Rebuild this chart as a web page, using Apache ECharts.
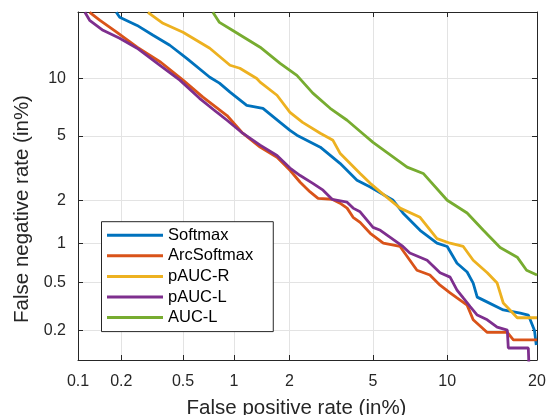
<!DOCTYPE html>
<html>
<head>
<meta charset="utf-8">
<script src="https://cdn.jsdelivr.net/npm/echarts@6/dist/echarts.min.js"></script>
<style>
html, body { margin: 0; padding: 0; background: #fff; }
#chart { width: 546px; height: 415px; }
</style>
</head>
<body>
<div id="chart"></div>
<script>
// tick positions (percent) and their labels
var xTicks = [0.1, 0.2, 0.5, 1, 2, 5, 10, 20];
var xTickLabels = ['0.1', '0.2', '0.5', '1', '2', '5', '10', '20'];
var yTicks = [0.2, 0.5, 1, 2, 5, 10];
var yTickLabels = ['0.2', '0.5', '1', '2', '5', '10'];
var xRange = [0.1, 20];
var yRange = [0.108, 19.5];

var seriesNames = ['Softmax', 'ArcSoftmax', 'pAUC-R', 'pAUC-L', 'AUC-L'];
var seriesColors = ['#0072BD', '#D95319', '#EDB120', '#7E2F8E', '#77AC30'];

// DET curves: false positive rate (%) / false negative rate (%)
var softmaxFpr = [0.185, 0.195, 0.255, 0.324, 0.414, 0.527, 0.725, 0.826, 0.95, 1.18, 1.447, 1.786, 2.01, 2.18, 2.85, 3.54, 4.24, 4.86, 6.10, 6.70, 7.86, 9.15, 10.0, 10.87, 11.82, 12.42, 12.83, 13.47, 15.7, 17.79, 18.83, 19.65, 19.9];
var softmaxFnr = [19.45, 18.6, 17.24, 15.70, 14.22, 12.43, 10.14, 9.49, 8.57, 7.33, 7.07, 5.94, 5.37, 5.04, 4.30, 3.44, 2.70, 2.44, 2.0, 1.64, 1.24, 1.0, 0.946, 0.708, 0.605, 0.495, 0.381, 0.36, 0.298, 0.28, 0.270, 0.20, 0.148];

var arcFpr = [0.121, 0.143, 0.187, 0.255, 0.363, 0.50, 0.66, 0.913, 1.12, 1.397, 1.72, 2.01, 2.265, 2.54, 2.78, 3.25, 3.54, 3.82, 4.07, 4.38, 4.86, 5.54, 6.52, 7.64, 8.59, 9.40, 10.25, 10.87, 11.82, 12.42, 13.89, 16.18, 16.92, 20];
var arcFnr = [19.45, 18.08, 16.15, 13.94, 11.93, 9.82, 8.08, 6.47, 5.17, 4.30, 3.74, 3.12, 2.62, 2.27, 2.06, 2.03, 1.91, 1.77, 1.53, 1.41, 1.18, 1.0, 0.946, 0.625, 0.573, 0.476, 0.412, 0.375, 0.327, 0.246, 0.191, 0.191, 0.164, 0.164];

var paucRFpr = [0.30, 0.375, 0.50, 0.725, 0.95, 1.08, 1.34, 1.397, 1.72, 2.01, 2.33, 2.85, 3.28, 3.54, 4.38, 4.86, 5.38, 6.52, 7.86, 9.15, 10.25, 11.45, 12.42, 13.89, 14.99, 15.7, 16.5, 17.4, 20];
var paucRFnr = [19.45, 17.58, 16.15, 13.8, 11.56, 11.19, 10.0, 9.6, 8.26, 6.72, 5.94, 5.17, 4.71, 3.96, 2.98, 2.58, 2.27, 1.77, 1.53, 1.08, 1.0, 0.946, 0.746, 0.598, 0.495, 0.341, 0.298, 0.256, 0.256];

var paucLFpr = [0.112, 0.121, 0.150, 0.195, 0.255, 0.345, 0.478, 0.63, 0.80, 0.913, 1.12, 1.397, 1.72, 2.01, 2.265, 2.62, 2.94, 3.25, 3.82, 4.07, 4.38, 5.0, 5.38, 6.70, 7.15, 8.38, 9.40, 10.25, 10.87, 11.45, 12.12, 12.83, 13.89, 14.99, 16.18, 16.3, 18.83, 18.9];
var paucLFnr = [19.45, 18.08, 16.46, 15.23, 13.8, 11.8, 9.82, 7.97, 6.72, 6.10, 5.17, 4.42, 3.84, 3.22, 2.89, 2.58, 2.33, 2.03, 1.94, 1.77, 1.67, 1.30, 1.24, 0.946, 0.845, 0.746, 0.598, 0.552, 0.435, 0.375, 0.318, 0.270, 0.246, 0.213, 0.200, 0.139, 0.139, 0.101];

var aucLFpr = [0.756, 0.826, 0.98, 1.397, 1.786, 2.18, 2.62, 3.18, 3.82, 4.48, 5.0, 6.97, 8.09, 10.0, 11.82, 13.47, 15.33, 17.4, 18.6, 20];
var aucLFnr = [19.45, 17.73, 16.46, 13.94, 11.8, 10.35, 8.47, 7.07, 6.10, 5.17, 4.58, 3.26, 2.98, 2.0, 1.64, 1.24, 0.93, 0.787, 0.625, 0.573];

var curves = [
    [softmaxFpr, softmaxFnr],
    [arcFpr, arcFnr],
    [paucRFpr, paucRFnr],
    [paucLFpr, paucLFnr],
    [aucLFpr, aucLFnr]
];

// inverse normal CDF (Acklam), used for the DET (normal deviate) scale
function probit(p) {
    var a = [-39.69683028665376, 220.9460984245205, -275.9285104469687, 138.3577518672690, -30.66479806614716, 2.506628277459239];
    var b = [-54.47609879822406, 161.5858368580409, -155.6989798598866, 66.80131188771972, -13.28068155288572];
    var c = [-0.007784894002430293, -0.3223964580411365, -2.400758277161838, -2.549732539343734, 4.374664141464968, 2.938163982698783];
    var d = [0.007784695709041462, 0.3224671290700398, 2.445134137142996, 3.754408661907416];
    var q, r;
    if (p < 0.02425) {
        q = Math.sqrt(-2 * Math.log(p));
        return (((((c[0] * q + c[1]) * q + c[2]) * q + c[3]) * q + c[4]) * q + c[5]) /
            ((((d[0] * q + d[1]) * q + d[2]) * q + d[3]) * q + 1);
    }
    if (p <= 1 - 0.02425) {
        q = p - 0.5;
        r = q * q;
        return (((((a[0] * r + a[1]) * r + a[2]) * r + a[3]) * r + a[4]) * r + a[5]) * q /
            (((((b[0] * r + b[1]) * r + b[2]) * r + b[3]) * r + b[4]) * r + 1);
    }
    q = Math.sqrt(-2 * Math.log(1 - p));
    return -(((((c[0] * q + c[1]) * q + c[2]) * q + c[3]) * q + c[4]) * q + c[5]) /
        ((((d[0] * q + d[1]) * q + d[2]) * q + d[3]) * q + 1);
}
function pct(v) { return probit(v / 100); }

var font = "'Liberation Sans', Arial, Helvetica, sans-serif";
var axisColor = '#262626';
var gridColor = '#e3e3e3';

function tickFormatter(ticks, labels) {
    return function (v) {
        for (var i = 0; i < ticks.length; i++) {
            if (Math.abs(pct(ticks[i]) - v) < 1e-6) return labels[i];
        }
        return '';
    };
}

function makeAxis(ticks, labels, range, position, main) {
    var vals = ticks.map(pct);
    return {
        type: 'value',
        position: position,
        min: pct(range[0]),
        max: pct(range[1]),
        axisLine: { show: true, onZero: false, lineStyle: { color: axisColor, width: 1 } },
        axisTick: { show: true, inside: true, length: 5, customValues: vals, lineStyle: { color: axisColor } },
        axisLabel: {
            show: main,
            customValues: vals,
            formatter: tickFormatter(ticks, labels),
            color: axisColor,
            fontSize: 16,
            fontFamily: font,
            margin: position === 'bottom' ? 14 : 12
        },
        splitLine: { show: main, customValues: vals, lineStyle: { color: gridColor, width: 1 } }
    };
}

var xMain = makeAxis(xTicks, xTickLabels, xRange, 'bottom', true);
xMain.name = 'False positive rate (in%)';
xMain.nameLocation = 'middle';
xMain.nameGap = 38;
xMain.nameTextStyle = { fontSize: 20.5, color: axisColor, fontFamily: font, padding: [0, 22, 0, 0] };

var yMain = makeAxis(yTicks, yTickLabels, yRange, 'left', true);
yMain.name = 'False negative rate (in%)';
yMain.nameLocation = 'middle';
yMain.nameGap = 44;
yMain.nameTextStyle = { fontSize: 20.5, color: axisColor, fontFamily: font, padding: [0, 46, 0, 0] };

var series = curves.map(function (cv, k) {
    return {
        name: seriesNames[k],
        type: 'line',
        xAxisIndex: 0,
        yAxisIndex: 0,
        symbol: 'none',
        clip: true,
        animation: false,
        lineStyle: { width: 2.8, color: seriesColors[k] },
        itemStyle: { color: seriesColors[k] },
        data: cv[0].map(function (x, i) { return [pct(x), pct(cv[1][i])]; })
    };
});

var chart = echarts.init(document.getElementById('chart'), null, { renderer: 'canvas' });
var option = {
    animation: false,
    backgroundColor: '#fff',
    grid: { left: 78, right: 9, top: 12, bottom: 55, containLabel: false, outerBoundsMode: 'none' },
    xAxis: [xMain, makeAxis(xTicks, xTickLabels, xRange, 'top', false)],
    yAxis: [yMain, makeAxis(yTicks, yTickLabels, yRange, 'right', false)],
    legend: {
        data: seriesNames,
        orient: 'vertical',
        left: 101.5,
        top: 221.7,
        padding: [4.5, 20, 5, 5.5],
        itemGap: 2.6,
        itemWidth: 56,
        itemHeight: 3,
        icon: 'rect',
        backgroundColor: '#fff',
        borderColor: axisColor,
        borderWidth: 1,
        borderRadius: 0,
        textStyle: { fontSize: 16.5, color: '#000', fontFamily: font, lineHeight: 18 }
    },
    series: series
};
chart.setOption(option);
</script>
</body>
</html>
